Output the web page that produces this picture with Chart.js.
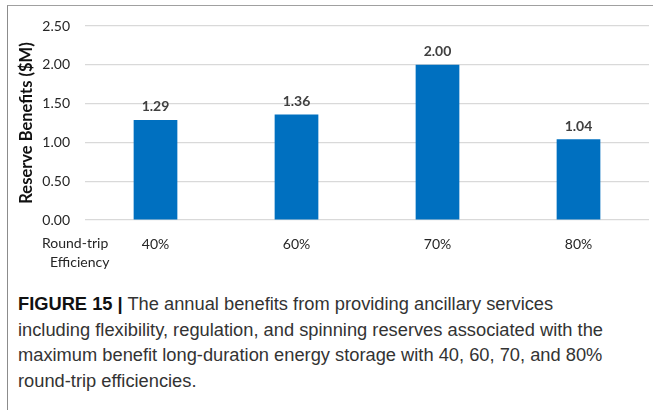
<!DOCTYPE html>
<html>
<head>
<meta charset="utf-8">
<script src="https://cdn.jsdelivr.net/npm/chart.js@4"></script>
<style>
  body { margin: 0; background: #fff; }
  #frame { position: absolute; left: 7px; top: 5px; width: 646px; height: 405px;
           border-left: 1.5px solid #8c8c8c; border-top: 1.5px solid #a0a0a0; }
  #wrap { position: absolute; left: 0; top: 0; width: 653px; height: 280px; }
  #caption { position: absolute; left: 18px; top: 291px; width: 635px; white-space: nowrap;
             font-family: "Liberation Sans", Arial, sans-serif; font-size: 18.3px;
             line-height: 25.5px; color: #333; }
  #caption b { color: #111; }
</style>
</head>
<body>
<div id="frame"></div>
<div id="wrap"><canvas id="myChart"></canvas></div>
<div id="caption"><b>FIGURE 15 |</b> The annual benefits from providing ancillary services<br>including flexibility, regulation, and spinning reserves associated with the<br>maximum benefit long-duration energy storage with 40, 60, 70, and 80%<br>round-trip efficiencies.</div>
<script>
var efficiencies = ["40%", "60%", "70%", "80%"];
var benefits = [1.29, 1.36, 2.00, 1.04];
var yTicks = [0, 0.5, 1.0, 1.5, 2.0, 2.5];

var font = "Lato";

// value labels above bars + "Round-trip Efficiency" label
var labelPlugin = {
  id: "labels",
  afterDatasetsDraw: function(chart) {
    var ctx = chart.ctx;
    ctx.save();
    ctx.font = "bold 14px " + font;
    ctx.fillStyle = "#404040";
    ctx.textAlign = "center";
    ctx.textBaseline = "middle";
    chart.getDatasetMeta(0).data.forEach(function(bar, i) {
      ctx.fillText(benefits[i].toFixed(2), bar.x, bar.y - 13);
    });
    ctx.font = "14px " + font;
    ctx.fillStyle = "#262626";
    ctx.textAlign = "left";
    ctx.fillText("Round-trip", 42, 243);
    ctx.fillText("Efficiency", 50, 262);
    ctx.restore();
  }
};

var data = {
  labels: efficiencies,
  datasets: [{
    data: benefits,
    backgroundColor: "#0070c0",
    barPercentage: 0.62,
    categoryPercentage: 0.5
  }]
};

var options = {
  responsive: true,
  maintainAspectRatio: false,
  animation: false,
  layout: { padding: { top: 26, right: 4, left: 17, bottom: 0 } },
  plugins: { legend: { display: false }, tooltip: { enabled: false } },
  scales: {
    x: {
      grid: { display: false },
      border: { display: false },
      ticks: { color: "#262626", font: { family: font, size: 14 }, padding: 8 },
      afterFit: function(s) { s.height = 60; }
    },
    y: {
      min: 0,
      max: 2.5,
      afterBuildTicks: function(s) { s.ticks = yTicks.map(function(v) { return { value: v }; }); },
      grid: { color: "#d9d9d9", lineWidth: 1.2, drawTicks: false },
      border: { display: false },
      ticks: {
        color: "#262626", font: { family: font, size: 14 }, padding: 15,
        callback: function(v) { return v.toFixed(2); }
      },
      title: {
        display: true, text: "Reserve Benefits ($M)", color: "#111",
        font: { family: font, size: 16.5, weight: "bold" }, padding: 0
      },
      afterFit: function(s) { s.width = 68; }
    }
  }
};

var ctx = document.getElementById("myChart").getContext("2d");
var barChart = new Chart(ctx, { type: "bar", data: data, options: options, plugins: [labelPlugin] });
</script>
</body>
</html>
